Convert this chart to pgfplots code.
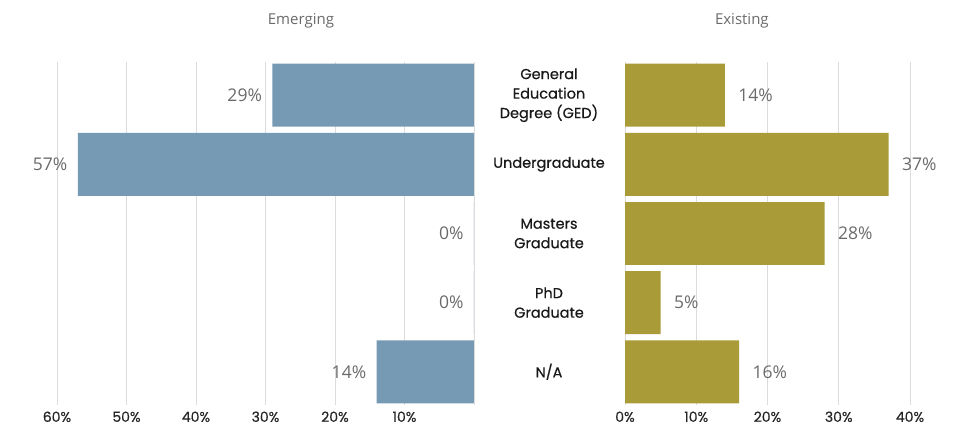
\documentclass[border=0pt]{standalone}
\usepackage{pgfplots}
\pgfplotsset{compat=1.18}
\usepackage{fontspec}
\setmainfont{Open Sans}
\newfontfamily\pop{Poppins}[FakeBold=0.5]
\definecolor{emblue}{HTML}{7699B4}
\definecolor{exgold}{HTML}{A89B38}
\definecolor{gridc}{HTML}{DCDCDC}
\definecolor{lbl}{HTML}{6A6A6A}
\begin{document}
\begin{tikzpicture}[x=1pt,y=1pt]
\useasboundingbox (0,0) rectangle (959,432);
\pgfplotsset{
  common/.style={
    scale only axis, height=343pt,
    xbar, bar width=0.91,
    y dir=reverse, ymin=-0.48, ymax=4.48,
    ytick={0,1,2,3,4},
    axis line style={draw=none},
    major tick length=0pt,
    xmajorgrids, grid style={gridc, line width=0.8pt},
    xticklabel style={font=\pop\fontsize{14}{16}\selectfont, text=black!85, yshift=-3pt},
    /pgf/number format/assume math mode=true,
    nodes near coords={\pgfmathprintnumber{\pgfplotspointmeta}\%},
    every node near coord/.append style={font=\fontsize{17.5}{20}\selectfont, text=lbl},
  }
}
% Left: Emerging
\begin{axis}[common, at={(57pt,27pt)}, anchor=south west, width=417pt,
  x dir=reverse, xmin=0, xmax=60, xtick={0,10,20,30,40,50,60},
  xticklabels={,10\%,20\%,30\%,40\%,50\%,60\%},
  yticklabels={},
  nodes near coords align={horizontal},
  every node near coord/.append style={anchor=east, xshift=-7pt},
  title={Emerging}, title style={font=\fontsize{15}{18}\selectfont, text=lbl, at={(0.585,1)}, yshift=24pt, anchor=south},
]
\addplot[fill=emblue, draw=none] coordinates {(29,0) (57,1) (0,2) (0,3) (14,4)};
\end{axis}
% Right: Existing
\begin{axis}[common, at={(625pt,27pt)}, anchor=south west, width=285pt,
  xmin=0, xmax=40, xtick={0,10,20,30,40},
  xticklabels={0\%,10\%,20\%,30\%,40\%},
  yticklabels={General\\Education\\Degree (GED),Undergraduate,Masters\\Graduate,PhD\\Graduate,N/A},
  yticklabel style={font=\pop\fontsize{14.5}{19.5}\selectfont, text=black!90, align=center, anchor=center, xshift=-76pt},
  every node near coord/.append style={anchor=west, xshift=10pt},
  title={Existing}, title style={font=\fontsize{15}{18}\selectfont, text=lbl, at={(0.41,1)}, yshift=24pt, anchor=south},
]
\addplot[fill=exgold, draw=none] coordinates {(14,0) (37,1) (28,2) (5,3) (16,4)};
\end{axis}
\end{tikzpicture}
\end{document}
